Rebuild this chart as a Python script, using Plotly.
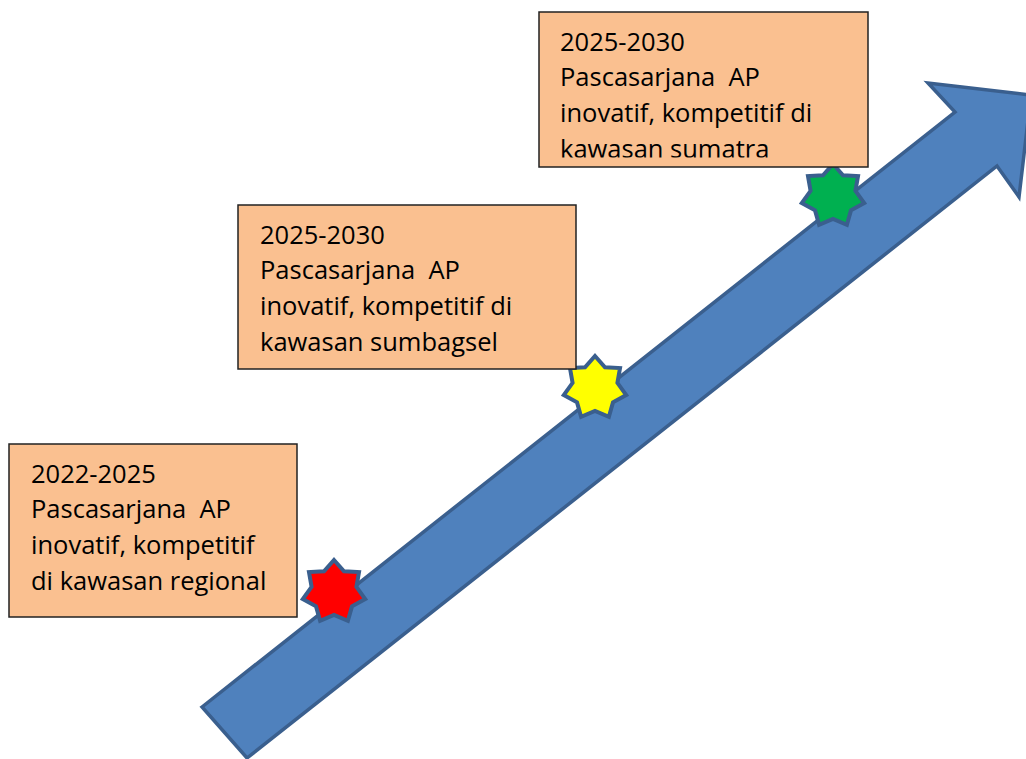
import math
import plotly.graph_objects as go

# ---- content ----
periods = ["2022-2025", "2025-2030", "2025-2030"]
description_lines = [
    ["Pascasarjana  AP", "inovatif, kompetitif", "di kawasan regional"],
    ["Pascasarjana  AP", "inovatif, kompetitif di", "kawasan sumbagsel"],
    ["Pascasarjana  AP", "inovatif, kompetitif di", "kawasan sumatra"],
]
star_colors = ["#FF0000", "#FFFF00", "#00B050"]

# ---- layout geometry (pixels, y downward) ----
W, H = 1026, 759
boxes = [(9, 444, 297, 617), (238, 205, 576, 369), (539, 12, 868, 167)]
text_left = [31, 260, 560]
star_centers = [(334, 592), (595, 388), (833, 196)]
FS = 25.5
LINE_H = 35.8
FIRST_BASE = 38.5

BOX_FILL = "#FAC090"
ARROW_FILL = "#4F81BD"
DARK_BLUE = "#3A5F8E"

shapes = []

# arrow
arrow_pts = [(202, 707), (955, 112), (928, 83), (1031, 95), (1019, 197), (997, 166), (247, 758)]
path = "M " + " L ".join(f"{x},{y}" for x, y in arrow_pts) + " Z"
shapes.append(dict(type="path", path=path, fillcolor=ARROW_FILL,
                   line=dict(color=DARK_BLUE, width=3.5), layer="below"))

# stars
def star_path(cx, cy, R, r, n=7):
    pts = []
    for k in range(2 * n):
        ang = -math.pi / 2 + k * math.pi / n
        rad = R if k % 2 == 0 else r
        pts.append((cx + rad * math.cos(ang), cy + rad * math.sin(ang)))
    return "M " + " L ".join(f"{x:.2f},{y:.2f}" for x, y in pts) + " Z"

for (cx, cy), col in zip(star_centers, star_colors):
    shapes.append(dict(type="path", path=star_path(cx, cy, 32, 23), fillcolor=col,
                       line=dict(color=DARK_BLUE, width=4), layer="below"))

# boxes fill (below text)
for (x0, y0, x1, y1) in boxes:
    shapes.append(dict(type="rect", x0=x0, y0=y0, x1=x1, y1=y1, fillcolor=BOX_FILL,
                       line=dict(width=0), layer="below"))

# text per line via scatter
tx, ty, tt = [], [], []
for i, (x0, y0, x1, y1) in enumerate(boxes):
    lines = [periods[i]] + description_lines[i]
    for k, ln in enumerate(lines):
        base = y0 + FIRST_BASE + LINE_H * k
        tx.append(text_left[i])
        ty.append(base - 0.25 * FS)
        tt.append(ln)

fig = go.Figure()
fig.add_trace(go.Scatter(x=tx, y=ty, text=tt, mode="text", textposition="middle right",
                         textfont=dict(family="Open Sans", size=FS, color="#000000"),
                         hoverinfo="skip", showlegend=False))

# clip text overflowing the inner text frame of the top box
bx0, by0, bx1, by1 = boxes[2]
shapes.append(dict(type="rect", x0=bx0 + 1, y0=by1 - 9.5, x1=bx1 - 1, y1=by1,
                   fillcolor=BOX_FILL, line=dict(width=0), layer="above"))
# box outlines
for (x0, y0, x1, y1) in boxes:
    shapes.append(dict(type="rect", x0=x0, y0=y0, x1=x1, y1=y1, fillcolor="rgba(0,0,0,0)",
                       line=dict(color="#222222", width=1.5), layer="above"))

fig.update_layout(
    width=W, height=H, margin=dict(l=0, r=0, t=0, b=0),
    paper_bgcolor="white", plot_bgcolor="white",
    xaxis=dict(range=[0, W], visible=False, fixedrange=True),
    yaxis=dict(range=[H, 0], visible=False, fixedrange=True),
    shapes=shapes, showlegend=False,
)
fig.write_html("out.html", config={"displayModeBar": False},
               post_script="document.body.style.margin='0';document.body.style.overflow='hidden';")
